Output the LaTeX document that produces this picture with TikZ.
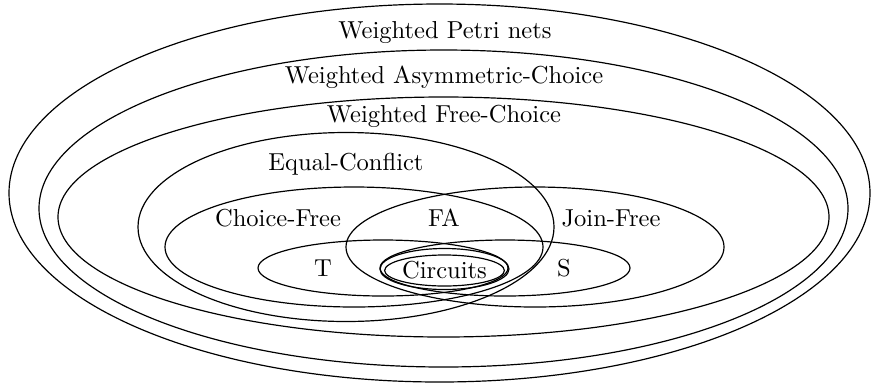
\documentclass[tikz,border=0pt]{standalone}
\usetikzlibrary{positioning,shapes.geometric}
\begin{document}
\begin{tikzpicture}[x=0.42pt,y=-0.42pt,
  set/.style={draw,line width=0.5pt},
  lbl/.style={inner sep=1pt,font=\fontsize{10.3}{12}\selectfont}]
\useasboundingbox (0,0) rectangle (871,383);
% nested classes
\draw[set] (439.5,193) ellipse [x radius=430.5, y radius=189];
\draw[set] (443.5,208.5) ellipse [x radius=404.5, y radius=158.5];
\draw[set] (443.5,217) ellipse [x radius=385.5, y radius=120];
\draw[set] (346,227) ellipse [x radius=208, y radius=94.5];
% choice-free and join-free
\draw[set] (354,247) ellipse [x radius=189, y radius=60];
\draw[set] (535,247) ellipse [x radius=189, y radius=60];
% T and S
\draw[set] (383,268) ellipse [x radius=125, y radius=28];
\draw[set] (505,268) ellipse [x radius=125, y radius=28];
\draw[set] (444.5,269) ellipse [x radius=64.5, y radius=20.5];
% labels
\node[lbl] (petri) at (445,33) {Weighted Petri nets};
\node[lbl] (wac) at (444,77) {Weighted Asymmetric-Choice};
\node[lbl] (wfc) at (444,116) {Weighted Free-Choice};
\node[lbl] (ec) at (346,164) {Equal-Conflict};
\node[lbl] (cf) at (278,218) {Choice-Free};
\node[lbl] (fa) at (444,218) {FA};
\node[lbl] (jf) at (611,218) {Join-Free};
\node[lbl] (tnet) at (323,268) {T};
\node[lbl] (snet) at (564,268) {S};
\node[set,lbl,ellipse,inner sep=0pt,minimum width=106*0.42pt,minimum height=31*0.42pt] (circ) at (444.5,270.5) {Circuits};
\end{tikzpicture}
\end{document}
